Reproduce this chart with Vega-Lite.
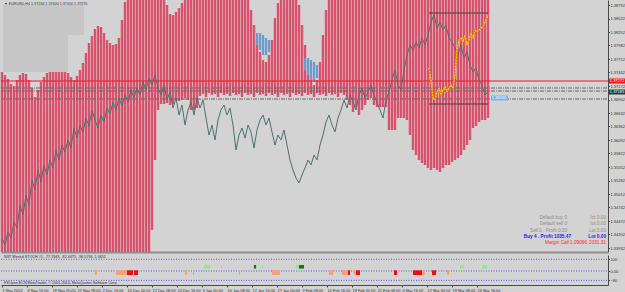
{
"$schema": "https://vega.github.io/schema/vega-lite/v6.json",
"background": "#d3d3d3",
"padding": 0,
"spacing": 2,
"config": {"view": {"stroke": null}, "font": "Liberation Sans"},
"datasets": {
"stripes": [
{"n":1,"p":1.37452,"lo":1.33852},{"n":4,"p":1.37392,"lo":1.33852},{"n":7,"p":1.37312,"lo":1.33852},{"n":10,"p":1.37212,"lo":1.33852},{"n":13,"p":1.37172,"lo":1.33852},{"n":16,"p":1.37292,"lo":1.33852},{"n":19,"p":1.37392,"lo":1.33852},{"n":22,"p":1.37432,"lo":1.33852},{"n":25,"p":1.37412,"lo":1.33852},{"n":28,"p":1.37292,"lo":1.33852},{"n":31,"p":1.37132,"lo":1.33852},{"n":34,"p":1.36952,"lo":1.33852},{"n":37,"p":1.37092,"lo":1.33852},{"n":40,"p":1.37252,"lo":1.33852},{"n":43,"p":1.37352,"lo":1.33852},{"n":46,"p":1.37432,"lo":1.33852},{"n":49,"p":1.37452,"lo":1.33852},{"n":52,"p":1.37452,"lo":1.33852},{"n":55,"p":1.37452,"lo":1.33852},{"n":58,"p":1.37452,"lo":1.33852},{"n":61,"p":1.37452,"lo":1.33852},{"n":64,"p":1.37452,"lo":1.33852},{"n":67,"p":1.37432,"lo":1.33852},{"n":70,"p":1.37352,"lo":1.33852},{"n":73,"p":1.37292,"lo":1.33852},{"n":76,"p":1.37372,"lo":1.33852},{"n":79,"p":1.37492,"lo":1.33852},{"n":82,"p":1.37632,"lo":1.33852},{"n":85,"p":1.37832,"lo":1.33852},{"n":88,"p":1.38032,"lo":1.33852},{"n":91,"p":1.38172,"lo":1.33852},{"n":94,"p":1.38312,"lo":1.33852},{"n":97,"p":1.38372,"lo":1.33852},{"n":100,"p":1.38352,"lo":1.33852},{"n":103,"p":1.38232,"lo":1.33852},{"n":106,"p":1.38092,"lo":1.33852},{"n":109,"p":1.38032,"lo":1.33852},{"n":112,"p":1.37992,"lo":1.33852},{"n":115,"p":1.38012,"lo":1.33852},{"n":118,"p":1.38132,"lo":1.33852},{"n":121,"p":1.38492,"lo":1.33852},{"n":124,"p":1.38852,"lo":1.33852},{"n":127,"p":1.38892,"lo":1.33852},{"n":130,"p":1.38892,"lo":1.33852},{"n":133,"p":1.38892,"lo":1.33852},{"n":136,"p":1.38892,"lo":1.33852},{"n":139,"p":1.38892,"lo":1.33852},{"n":142,"p":1.38892,"lo":1.33852},{"n":145,"p":1.38892,"lo":1.33852},{"n":148,"p":1.38892,"lo":1.33852},{"n":151,"p":1.38892,"lo":1.34292},{"n":154,"p":1.38892,"lo":1.35692},{"n":157,"p":1.38892,"lo":1.36692},
{"n":160,"p":1.38892,"lo":1.36812},{"n":163,"p":1.38892,"lo":1.36812},{"n":166,"p":1.38792,"lo":1.36832},{"n":169,"p":1.38612,"lo":1.36792},{"n":172,"p":1.38592,"lo":1.36812},{"n":175,"p":1.38652,"lo":1.36892},{"n":178,"p":1.38732,"lo":1.36872},{"n":181,"p":1.38832,"lo":1.36892},{"n":184,"p":1.38892,"lo":1.36932},{"n":187,"p":1.38892,"lo":1.36892},{"n":190,"p":1.38892,"lo":1.36692},{"n":193,"p":1.38892,"lo":1.36692},{"n":196,"p":1.38892,"lo":1.36732},{"n":199,"p":1.38892,"lo":1.36972},
{"n":202,"p":1.38892,"lo":1.37012},{"n":205,"p":1.38892,"lo":1.36952},{"n":208,"p":1.38892,"lo":1.37032},{"n":211,"p":1.38892,"lo":1.36992},{"n":214,"p":1.38892,"lo":1.37012},{"n":217,"p":1.38892,"lo":1.36952},{"n":220,"p":1.38892,"lo":1.37032},{"n":223,"p":1.38892,"lo":1.36992},{"n":226,"p":1.38892,"lo":1.37012},{"n":229,"p":1.38892,"lo":1.36972},{"n":232,"p":1.38892,"lo":1.37032},{"n":235,"p":1.38892,"lo":1.36992},{"n":238,"p":1.38892,"lo":1.37012},{"n":241,"p":1.38892,"lo":1.36952},{"n":244,"p":1.38892,"lo":1.37032},{"n":247,"p":1.38892,"lo":1.36992},
{"n":250,"p":1.38692,"lo":1.37012},{"n":253,"p":1.38392,"lo":1.36952},{"n":256,"p":1.38092,"lo":1.37032},{"n":259,"p":1.37852,"lo":1.36992},{"n":262,"p":1.37692,"lo":1.37012},{"n":265,"p":1.37652,"lo":1.36972},{"n":268,"p":1.37792,"lo":1.37032},{"n":271,"p":1.38092,"lo":1.36992},{"n":274,"p":1.38532,"lo":1.37012},{"n":277,"p":1.38832,"lo":1.36952},{"n":280,"p":1.38892,"lo":1.37032},{"n":283,"p":1.38892,"lo":1.36992},{"n":286,"p":1.38892,"lo":1.37012},{"n":289,"p":1.38892,"lo":1.36952},{"n":292,"p":1.38892,"lo":1.37032},{"n":295,"p":1.38892,"lo":1.36992},
{"n":298,"p":1.38792,"lo":1.37012},{"n":301,"p":1.38392,"lo":1.36972},{"n":304,"p":1.37992,"lo":1.37032},{"n":307,"p":1.37652,"lo":1.36992},{"n":310,"p":1.37372,"lo":1.37012},{"n":313,"p":1.37192,"lo":1.36952},{"n":316,"p":1.37292,"lo":1.37032},{"n":319,"p":1.37652,"lo":1.36992},{"n":322,"p":1.38192,"lo":1.37012},{"n":325,"p":1.38692,"lo":1.36972},{"n":328,"p":1.38892,"lo":1.37032},{"n":331,"p":1.38892,"lo":1.36992},{"n":334,"p":1.38892,"lo":1.37012},{"n":337,"p":1.38892,"lo":1.36952},{"n":340,"p":1.38892,"lo":1.37032},{"n":343,"p":1.38892,"lo":1.36992},
{"n":346,"p":1.38892,"lo":1.36892},{"n":349,"p":1.38892,"lo":1.36792},{"n":352,"p":1.38892,"lo":1.36652},{"n":355,"p":1.38892,"lo":1.36732},{"n":358,"p":1.38892,"lo":1.36592},{"n":361,"p":1.38892,"lo":1.36692},{"n":364,"p":1.38892,"lo":1.36792},{"n":367,"p":1.38892,"lo":1.36892},{"n":370,"p":1.38892,"lo":1.36932},{"n":373,"p":1.38892,"lo":1.36792},{"n":376,"p":1.38892,"lo":1.36752},{"n":379,"p":1.38892,"lo":1.36752},{"n":382,"p":1.38892,"lo":1.36752},{"n":385,"p":1.38892,"lo":1.36752},{"n":388,"p":1.38892,"lo":1.36292},{"n":391,"p":1.38892,"lo":1.36292},{"n":394,"p":1.38892,"lo":1.36292},{"n":397,"p":1.38892,"lo":1.36532},{"n":400,"p":1.38892,"lo":1.36532},{"n":403,"p":1.38892,"lo":1.36532},{"n":406,"p":1.38892,"lo":1.36492},{"n":409,"p":1.38892,"lo":1.36192},{"n":412,"p":1.38892,"lo":1.35892},{"n":415,"p":1.38892,"lo":1.35792},{"n":418,"p":1.38892,"lo":1.35692},{"n":421,"p":1.38892,"lo":1.35632},{"n":424,"p":1.38892,"lo":1.35592},{"n":427,"p":1.38892,"lo":1.35532},{"n":430,"p":1.38892,"lo":1.35492},{"n":433,"p":1.38892,"lo":1.35532},{"n":436,"p":1.38892,"lo":1.35492},{"n":439,"p":1.38892,"lo":1.35452},{"n":442,"p":1.38892,"lo":1.35532},{"n":445,"p":1.38892,"lo":1.35592},{"n":448,"p":1.38892,"lo":1.35592},{"n":451,"p":1.38892,"lo":1.35652},{"n":454,"p":1.38892,"lo":1.35692},{"n":457,"p":1.38892,"lo":1.35732},{"n":460,"p":1.38892,"lo":1.35792},{"n":463,"p":1.38892,"lo":1.35892},{"n":466,"p":1.38892,"lo":1.35992},{"n":469,"p":1.38892,"lo":1.36092},{"n":472,"p":1.38892,"lo":1.36332},{"n":475,"p":1.38892,"lo":1.36372},{"n":478,"p":1.38892,"lo":1.36452},{"n":481,"p":1.38892,"lo":1.36492},{"n":484,"p":1.38892,"lo":1.36492},{"n":487,"p":1.38892,"lo":1.36532}
],
"blue": [
{"n":256,"p":1.38232,"lo":1.37992},{"n":259,"p":1.38232,"lo":1.37892},{"n":262,"p":1.38192,"lo":1.37792},{"n":265,"p":1.38132,"lo":1.37792},{"n":268,"p":1.38092,"lo":1.37852},
{"n":304,"p":1.37732,"lo":1.37492},{"n":307,"p":1.37732,"lo":1.37392},{"n":310,"p":1.37692,"lo":1.37292},{"n":313,"p":1.37652,"lo":1.37252},{"n":316,"p":1.37592,"lo":1.37332}
],
"price": [
{"n":1,"p":1.34132},{"n":4,"p":1.33992},{"n":7,"p":1.34252},{"n":10,"p":1.34132},{"n":13,"p":1.34452},{"n":16,"p":1.34332},{"n":19,"p":1.34792},{"n":22,"p":1.34592},{"n":25,"p":1.34992},{"n":28,"p":1.34792},{"n":31,"p":1.35292},{"n":34,"p":1.35092},{"n":37,"p":1.35492},{"n":40,"p":1.35252},{"n":43,"p":1.35592},{"n":46,"p":1.35392},{"n":49,"p":1.35692},{"n":52,"p":1.35532},{"n":55,"p":1.35892},{"n":58,"p":1.35692},{"n":61,"p":1.35992},{"n":64,"p":1.35852},{"n":67,"p":1.36092},{"n":70,"p":1.35932},{"n":73,"p":1.36332},{"n":76,"p":1.36132},{"n":79,"p":1.36392},{"n":82,"p":1.36252},{"n":85,"p":1.36532},{"n":88,"p":1.36372},{"n":91,"p":1.36692},{"n":94,"p":1.36492},{"n":97,"p":1.36332},{"n":100,"p":1.36592},{"n":103,"p":1.36452},{"n":106,"p":1.36732},{"n":109,"p":1.36612},{"n":112,"p":1.36852},{"n":115,"p":1.36692},{"n":118,"p":1.36932},{"n":121,"p":1.36772},{"n":124,"p":1.36992},{"n":127,"p":1.36852},{"n":130,"p":1.37092},{"n":133,"p":1.36932},{"n":136,"p":1.37132},{"n":139,"p":1.36992},{"n":142,"p":1.37252},{"n":145,"p":1.37092},{"n":148,"p":1.37332},{"n":151,"p":1.37192},{"n":154,"p":1.37392},{"n":157,"p":1.37132},{"n":160,"p":1.36992},{"n":163,"p":1.37192},{"n":166,"p":1.36892},{"n":169,"p":1.37052},{"n":172,"p":1.36732},{"n":175,"p":1.36932},{"n":178,"p":1.36592},{"n":181,"p":1.36792},{"n":184,"p":1.36392},{"n":187,"p":1.36692},{"n":190,"p":1.36852},{"n":193,"p":1.36592},{"n":196,"p":1.36932},{"n":199,"p":1.36732},{"n":202,"p":1.36892},{"n":205,"p":1.36532},{"n":208,"p":1.36192},{"n":211,"p":1.36392},{"n":214,"p":1.36092},{"n":217,"p":1.36492},{"n":220,"p":1.36692},{"n":223,"p":1.36792},{"n":226,"p":1.36592},{"n":229,"p":1.36732},{"n":232,"p":1.36392},{"n":235,"p":1.35892},{"n":238,"p":1.36192},{"n":241,"p":1.36332},{"n":244,"p":1.36132},{"n":247,"p":1.36392},{"n":250,"p":1.36252},{"n":253,"p":1.35932},{"n":256,"p":1.36292},{"n":259,"p":1.36492},{"n":262,"p":1.36592},{"n":265,"p":1.36392},{"n":268,"p":1.36532},{"n":271,"p":1.36252},{"n":274,"p":1.35992},{"n":277,"p":1.36192},{"n":280,"p":1.36092},{"n":283,"p":1.36292},{"n":286,"p":1.35992},{"n":289,"p":1.35692},{"n":292,"p":1.35492},{"n":295,"p":1.35332},{"n":298,"p":1.35232},{"n":301,"p":1.35392},{"n":304,"p":1.35532},{"n":307,"p":1.35692},{"n":310,"p":1.35592},{"n":313,"p":1.35792},{"n":316,"p":1.35692},{"n":319,"p":1.35992},{"n":322,"p":1.36192},{"n":325,"p":1.36452},{"n":328,"p":1.36592},{"n":331,"p":1.36392},{"n":334,"p":1.36252},{"n":337,"p":1.36532},{"n":340,"p":1.36692},{"n":343,"p":1.36892},{"n":346,"p":1.36732},{"n":349,"p":1.36992},{"n":352,"p":1.36852},{"n":355,"p":1.36692},{"n":358,"p":1.36992},{"n":361,"p":1.37132},{"n":364,"p":1.36932},{"n":367,"p":1.37052},{"n":370,"p":1.37192},{"n":373,"p":1.36992},{"n":376,"p":1.36852},{"n":379,"p":1.36692},{"n":382,"p":1.36532},{"n":385,"p":1.36892},{"n":388,"p":1.37052},{"n":391,"p":1.37292},{"n":394,"p":1.37492},{"n":397,"p":1.37192},{"n":400,"p":1.37092},{"n":403,"p":1.37492},{"n":406,"p":1.37792},{"n":409,"p":1.37992},{"n":412,"p":1.37892},{"n":415,"p":1.38052},{"n":418,"p":1.37932},{"n":421,"p":1.38132},{"n":424,"p":1.37992},{"n":427,"p":1.38192},{"n":430,"p":1.38452},{"n":433,"p":1.38592},{"n":436,"p":1.38332},{"n":439,"p":1.38452},{"n":442,"p":1.38292},{"n":445,"p":1.38392},{"n":448,"p":1.38132},{"n":451,"p":1.38052},{"n":454,"p":1.37932},{"n":457,"p":1.37792},{"n":460,"p":1.37992},{"n":463,"p":1.37732},{"n":466,"p":1.37852},{"n":469,"p":1.37592},{"n":472,"p":1.37452},{"n":475,"p":1.37532},{"n":478,"p":1.37292},{"n":481,"p":1.37192},{"n":484,"p":1.36992},{"n":487,"p":1.37052}
],
"yellow": [
{"n":428,"p":1.37532},{"n":430,"p":1.37292},{"n":432,"p":1.36932},{"n":434,"p":1.36892},{"n":436,"p":1.37052},{"n":438,"p":1.37132},{"n":440,"p":1.36992},{"n":442,"p":1.37092},{"n":444,"p":1.37172},{"n":446,"p":1.37052},{"n":448,"p":1.37132},{"n":450,"p":1.37192},{"n":452,"p":1.37132},{"n":454,"p":1.37392},{"n":456,"p":1.37892},{"n":458,"p":1.38092},{"n":460,"p":1.38132},{"n":462,"p":1.38052},{"n":464,"p":1.38192},{"n":466,"p":1.37992},{"n":468,"p":1.38092},{"n":470,"p":1.38232},{"n":472,"p":1.38132},{"n":474,"p":1.38292},{"n":476,"p":1.38252},{"n":478,"p":1.38292},{"n":480,"p":1.38332},{"n":482,"p":1.38352},{"n":484,"p":1.38452},{"n":486,"p":1.38532},{"n":487,"p":1.38592}
],
"boxes": [{"n":2,"n2":83,"p":1.38792,"lo":1.38192},{"n":2,"n2":67,"p":1.38192,"lo":1.37452}],
"redline": [{"n":0,"n2":607,"p":1.37272}],
"hlines": [{"n":0,"n2":607,"p":1.37132},{"n":0,"n2":607,"p":1.37072},{"n":0,"n2":607,"p":1.36912}],
"frame": [{"n":428,"n2":487,"p":1.38632},{"n":428,"n2":487,"p":1.36812}],
"info": [
{"n":566,"p":1.34532,"t":"Default buy 0","c":"g"},{"n":605,"p":1.34532,"t":"lot 0.00","c":"g"},
{"n":566,"p":1.34412,"t":"Default sell 0","c":"g"},{"n":605,"p":1.34412,"t":"lot 0.00","c":"g"},
{"n":566,"p":1.34272,"t":"Sell 0 . Profit 0.00","c":"g"},{"n":605,"p":1.34272,"t":"Lot 0.00","c":"g"},
{"n":570,"p":1.34152,"t":"Buy 4 . Profit 1035.47","c":"b"},{"n":605,"p":1.34152,"t":"Lot 0.00","c":"b"},
{"n":586,"p":1.34032,"t":"Margin Call 1.09066","c":"r"},{"n":605,"p":1.34032,"t":"2031.31","c":"r"}
],
"tags": [
{"n":608,"n2":624,"p":1.37322,"lo":1.37222,"txt":"1.37272","c":"red"},
{"n":608,"n2":624,"p":1.37102,"lo":1.37002,"txt":"1.37183","c":"dark"},
{"n":490,"n2":507,"p":1.36982,"lo":1.36882,"txt":"1.36930","c":"blue"}
],
"blocks": [
{"n":94,"n2":96,"c":"s","v":6,"lo":-34},{"n":115,"n2":126,"c":"s","v":6,"lo":-34},{"n":184,"n2":186,"c":"s","v":6,"lo":-34},{"n":192,"n2":193,"c":"s","v":6,"lo":-34},{"n":238,"n2":239,"c":"s","v":6,"lo":-34},{"n":271,"n2":279,"c":"s","v":6,"lo":-34},{"n":328,"n2":332,"c":"s","v":6,"lo":-34},{"n":341,"n2":347,"c":"s","v":6,"lo":-34},{"n":353,"n2":355,"c":"s","v":6,"lo":-34},{"n":421,"n2":424,"c":"s","v":6,"lo":-34},{"n":446,"n2":448,"c":"s","v":6,"lo":-34},
{"n":126,"n2":132,"c":"r","v":6,"lo":-34},{"n":133,"n2":137,"c":"r","v":6,"lo":-34},{"n":347,"n2":349,"c":"r","v":6,"lo":-34},{"n":355,"n2":359,"c":"r","v":6,"lo":-34},{"n":393,"n2":396,"c":"r","v":6,"lo":-34},{"n":412,"n2":421,"c":"r","v":6,"lo":-34},{"n":431,"n2":435,"c":"r","v":6,"lo":-34},
{"n":203,"n2":209,"c":"l","v":51,"lo":21},{"n":220,"n2":221,"c":"l","v":51,"lo":21},{"n":252,"n2":253,"c":"l","v":51,"lo":21},{"n":255,"n2":256,"c":"l","v":51,"lo":21},{"n":261,"n2":262,"c":"l","v":51,"lo":21},{"n":295,"n2":298,"c":"l","v":51,"lo":21},{"n":459,"n2":463,"c":"l","v":51,"lo":21},{"n":481,"n2":486,"c":"l","v":51,"lo":21},
{"n":253,"n2":255,"c":"d","v":51,"lo":21},{"n":298,"n2":303,"c":"d","v":51,"lo":21}
],
"levels": [{"n":0,"n2":607,"v":100},{"n":0,"n2":607,"v":0},{"n":0,"n2":607,"v":-80}],
"subtext": [{"n":3,"v":120,"t":"NST Weekd STOCH #1, -77.1943, -82.4475, -96.5736, 1.0651"},{"n":3,"v":-103,"t":"FXOpen ECN MetaTrader, © 2001-2014, MetaQuotes Software Corp."}]
},
"vconcat": [
{
"width": 607, "height": 252,
"encoding": {
 "x": {"field": "n", "type": "quantitative", "scale": {"domain": [0, 607], "padding": 0, "nice": false, "zero": false},
  "axis": {"labels": false, "ticks": false, "domainColor": "#8e8e8e", "domainWidth": 2, "title": null, "grid": false}},
 "y": {"field": "p", "type": "quantitative", "scale": {"domain": [1.33852, 1.38892], "zero": false, "nice": false, "padding": 0},
  "axis": {"orient": "right", "values": [1.38792,1.38522,1.38252,1.37982,1.37712,1.37442,1.37172,1.36902,1.36632,1.36362,1.36092,1.35822,1.35552,1.35282,1.35012,1.34742,1.34472,1.34202,1.33932], "format": ".5f", "labelFontSize": 4, "labelColor": "#303030", "tickSize": 1.5, "labelPadding": 0.5, "domainColor": "#4a4a4a", "tickColor": "#4a4a4a", "grid": false, "title": null}}
},
"layer": [
{"data": {"name": "stripes"}, "mark": {"type": "bar", "width": 3, "color": "#e6909f"}, "encoding": {"y2": {"field": "lo"}}},
{"data": {"name": "stripes"}, "mark": {"type": "bar", "width": 2, "color": "#d6526d"}, "encoding": {"y2": {"field": "lo"}}},
{"data": {"name": "blue"}, "mark": {"type": "bar", "width": 3, "color": "#a9c1da"}, "encoding": {"y2": {"field": "lo"}}},
{"data": {"name": "blue"}, "mark": {"type": "bar", "width": 2, "color": "#6f9bcb"}, "encoding": {"y2": {"field": "lo"}}},
{"data": {"name": "boxes"}, "mark": {"type": "rect", "color": "#c6c6c6"}, "encoding": {"x2": {"field": "n2"}, "y2": {"field": "lo"}}},
{"data": {"values": [{"n": 3, "p": 1.38812, "t": "▼ EURUSD,H4  1.37234 1.37400 1.37050 1.37270"}]}, "mark": {"type": "text", "align": "left", "baseline": "middle", "fontSize": 3.7, "color": "#303030"}, "encoding": {"text": {"field": "t"}}},
{"data": {"name": "redline"}, "mark": {"type": "rule", "color": "#e02020", "strokeWidth": 1}, "encoding": {"x2": {"field": "n2"}}},
{"data": {"name": "hlines"}, "mark": {"type": "rule", "color": "#666666", "strokeWidth": 1, "strokeDash": [4, 1, 1, 1]}, "encoding": {"x2": {"field": "n2"}}},
{"data": {"name": "price"}, "mark": {"type": "line", "color": "#4d716d", "strokeWidth": 1}, "encoding": {}},
{"data": {"name": "frame"}, "mark": {"type": "rule", "color": "#404040", "strokeWidth": 1}, "encoding": {"x2": {"field": "n2"}}},
{"data": {"name": "yellow"}, "mark": {"type": "line", "color": "#f08a00", "strokeWidth": 1.4}, "encoding": {}},
{"data": {"name": "yellow"}, "mark": {"type": "line", "color": "#ffe21a", "strokeWidth": 1, "strokeDash": [1.5, 1.5]}, "encoding": {}},
{"data": {"name": "tags"}, "transform": [{"filter": "datum.c == 'red'"}], "mark": {"type": "rect", "color": "#ff1010"}, "encoding": {"x2": {"field": "n2"}, "y2": {"field": "lo"}}},
{"data": {"name": "tags"}, "transform": [{"filter": "datum.c == 'dark'"}], "mark": {"type": "rect", "color": "#1e3c3c"}, "encoding": {"x2": {"field": "n2"}, "y2": {"field": "lo"}}},
{"data": {"name": "tags"}, "transform": [{"filter": "datum.c == 'blue'"}], "mark": {"type": "rect", "color": "#7fb0e6"}, "encoding": {"x2": {"field": "n2"}, "y2": {"field": "lo"}}},
{"data": {"name": "tags"}, "mark": {"type": "text", "align": "left", "baseline": "top", "fontSize": 4, "color": "#ffffff", "dx": 0.8, "dy": 0.4}, "encoding": {"text": {"field": "txt"}}},
{"data": {"name": "info"}, "transform": [{"filter": "datum.c == 'g'"}], "mark": {"type": "text", "align": "right", "baseline": "middle", "fontSize": 4.7, "color": "#8c8c8c"}, "encoding": {"text": {"field": "t"}}},
{"data": {"name": "info"}, "transform": [{"filter": "datum.c == 'b'"}], "mark": {"type": "text", "align": "right", "baseline": "middle", "fontSize": 4.7, "color": "#1a1aff", "fontWeight": "bold"}, "encoding": {"text": {"field": "t"}}},
{"data": {"name": "info"}, "transform": [{"filter": "datum.c == 'r'"}], "mark": {"type": "text", "align": "right", "baseline": "middle", "fontSize": 4.7, "color": "#ff1a1a"}, "encoding": {"text": {"field": "t"}}}
]
},
{
"width": 607, "height": 30,
"encoding": {
 "x": {"field": "n", "type": "quantitative", "scale": {"domain": [0, 607], "padding": 0, "nice": false, "zero": false},
  "axis": {"values": [1,26,51,76,101,126,151,176,201,226,251,276,301,326,351,376,401,426,451,476], "labelExpr": "['1 Nov 2013','8 Nov 16:00','18 Nov 00:00','25 Nov 08:00','2 Dec 16:00','10 Dec 00:00','17 Dec 08:00','24 Dec 16:00','3 Jan 00:00','10 Jan 08:00','17 Jan 16:00','27 Jan 00:00','3 Feb 08:00','10 Feb 16:00','18 Feb 00:00','25 Feb 08:00','4 Mar 16:00','12 Mar 00:00','19 Mar 08:00','26 Mar 16:00'][round((datum.value - 1) / 25)]", "labelAlign": "left", "labelFontSize": 3.9, "labelColor": "#303030", "tickSize": 2, "labelPadding": 1, "domainColor": "#4a4a4a", "tickColor": "#4a4a4a", "grid": false, "title": null, "labelOverlap": false, "labelFlush": false}},
 "y": {"field": "v", "type": "quantitative", "scale": {"domain": [-119.7, 136.8], "nice": false, "zero": false, "padding": 0},
  "axis": {"orient": "right", "values": [100, 0, -80], "labelExpr": "datum.value == 0 ? '0.00' : format(datum.value, 'd')", "labelFontSize": 4, "labelColor": "#303030", "tickSize": 1.5, "labelPadding": 0.5, "domainColor": "#4a4a4a", "tickColor": "#4a4a4a", "grid": false, "title": null}}
},
"layer": [
{"data": {"name": "levels"}, "mark": {"type": "rule", "color": "#5a5ae0", "strokeWidth": 1, "strokeDash": [1, 1.5]}, "encoding": {"x2": {"field": "n2"}}},
{"data": {"name": "blocks"}, "transform": [{"filter": "datum.c == 's'"}], "mark": {"type": "rect", "color": "#f5a07c"}, "encoding": {"x2": {"field": "n2"}, "y2": {"field": "lo"}}},
{"data": {"name": "blocks"}, "transform": [{"filter": "datum.c == 'r'"}], "mark": {"type": "rect", "color": "#e81010"}, "encoding": {"x2": {"field": "n2"}, "y2": {"field": "lo"}}},
{"data": {"name": "blocks"}, "transform": [{"filter": "datum.c == 'l'"}], "mark": {"type": "rect", "color": "#8ee88e"}, "encoding": {"x2": {"field": "n2"}, "y2": {"field": "lo"}}},
{"data": {"name": "blocks"}, "transform": [{"filter": "datum.c == 'd'"}], "mark": {"type": "rect", "color": "#0a7a0a"}, "encoding": {"x2": {"field": "n2"}, "y2": {"field": "lo"}}},
{"data": {"name": "subtext"}, "mark": {"type": "text", "align": "left", "baseline": "middle", "fontSize": 3.7, "color": "#303030"}, "encoding": {"text": {"field": "t"}}}
]
}
]
}
